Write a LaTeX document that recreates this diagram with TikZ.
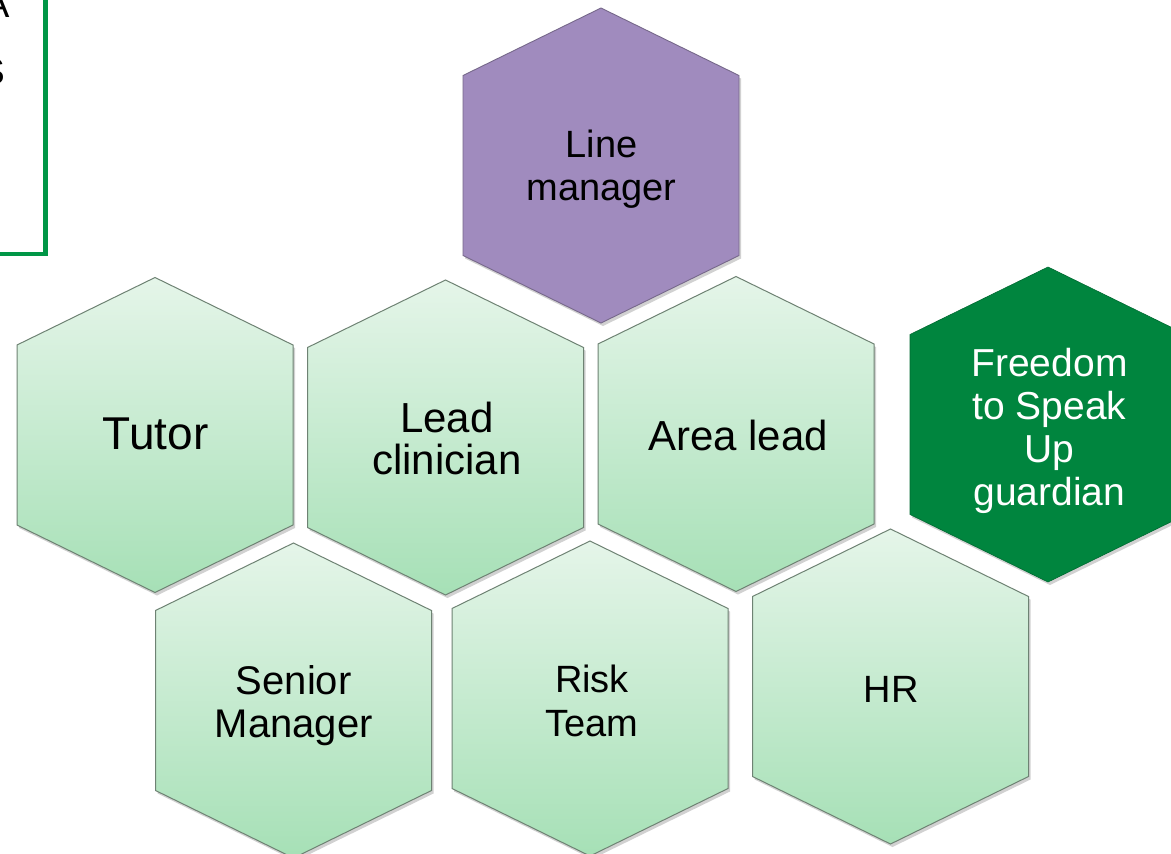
\documentclass[tikz,border=0pt]{standalone}
\usepackage{fontspec}
\setmainfont{Liberation Sans}
\definecolor{lmpurple}{RGB}{160,139,190}
\definecolor{lmpurpleline}{RGB}{118,104,138}
\definecolor{ftsugreen}{RGB}{0,133,62}
\definecolor{boxgreen}{RGB}{0,150,70}
\definecolor{hextop}{RGB}{229,245,233}
\definecolor{hexbot}{RGB}{166,224,182}
\definecolor{hexline}{RGB}{110,130,115}
\newcommand\hexpath[2]{(#1,#2) ++(0,-157.5) -- ++(138,67.5) -- ++(0,180) -- ++(-138,67.5) -- ++(-138,-67.5) -- ++(0,-180) -- cycle}
\newcommand\hexdraw[3]{%
  \path[fill=black,opacity=0.18] \hexpath{#1+2}{#2+3};
  \path[#3] \hexpath{#1}{#2};}
\tikzset{
  lighthex/.style={top color=hextop,bottom color=hexbot,draw=hexline,line width=1pt},
  purplehex/.style={fill=lmpurple,draw=lmpurpleline,line width=0.9pt},
  greenhex/.style={fill=ftsugreen,draw=ftsugreen!80!black,line width=0.6pt},
  lbl/.style={inner sep=0pt,anchor=north,align=center,text=black},
}
\begin{document}
\begin{tikzpicture}[x=1pt,y=-1pt]
\useasboundingbox (0,0) rectangle (1171,854);
\clip (0,0) rectangle (1171,854);
\fill[white] (0,0) rectangle (1171,854);
% top-left box (cut by the page edge)
\draw[boxgreen,line width=4.5pt,fill=white] (-30,-30) rectangle (45.5,254);
\node[inner sep=0pt,anchor=base east,font=\fontsize{38}{43}\selectfont] (frag1) at (10.5,17) {A};
\node[inner sep=0pt,anchor=base east,font=\fontsize{37}{43}\selectfont] (frag2) at (5,84) {S};
% hexagons
\hexdraw{601}{165.5}{purplehex}
\hexdraw{155}{435}{lighthex}
\hexdraw{445.5}{437.5}{lighthex}
\hexdraw{736}{434}{lighthex}
\hexdraw{1048}{424.5}{greenhex}
\hexdraw{293.5}{700.5}{lighthex}
\hexdraw{590}{698.5}{lighthex}
\hexdraw{890.5}{686.5}{lighthex}
% labels
\node[lbl,font=\fontsize{38}{43}\selectfont] (line) at (601.5,130) {Line\\manager};
\node[lbl,font=\fontsize{46}{52}\selectfont] (tutor) at (155.5,418) {Tutor};
\node[lbl,font=\fontsize{42}{42}\selectfont] (lead) at (447,402) {Lead\\clinician};
\node[lbl,font=\fontsize{42}{48}\selectfont] (area) at (738,420) {Area lead};
\node[lbl,font=\fontsize{39}{43}\selectfont,text=white] (ftsu) at (1049.5,348) {Freedom\\to Speak\\Up\\guardian};
\node[lbl,font=\fontsize{40}{43}\selectfont] (senior) at (293.7,665) {Senior\\Manager};
\node[lbl,font=\fontsize{38}{44}\selectfont] (risk) at (592,665) {Risk\\Team};
\node[lbl,font=\fontsize{38}{43}\selectfont] (hr) at (891,676) {HR};
\end{tikzpicture}
\end{document}
